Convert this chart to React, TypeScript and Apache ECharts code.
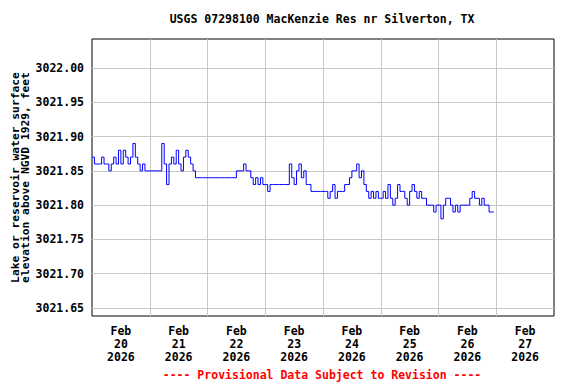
import React, { useEffect, useRef } from 'react';
import * as echarts from 'echarts';

const TITLE = 'USGS 07298100 MacKenzie Res nr Silverton, TX';
const Y_NAME = 'Lake or reservoir water surface\nelevation above NGVD 1929, feet';
const FOOTER = '---- Provisional Data Subject to Revision ----';

const START = Date.UTC(2026, 1, 20);
const END = Date.UTC(2026, 1, 28);
const HOUR = 3600000;
const DAY = 86400000;

const dayLabels = [20, 21, 22, 23, 24, 25, 26, 27];
const yTicks = [3021.65, 3021.7, 3021.75, 3021.8, 3021.85, 3021.9, 3021.95, 3022.0];

// hourly gage heights, starting Feb 20 00:00
const feb20 = [3021.87, 3021.86, 3021.86, 3021.86, 3021.87, 3021.86, 3021.86, 3021.85, 3021.86, 3021.87, 3021.86, 3021.88,
  3021.86, 3021.88, 3021.87, 3021.86, 3021.87, 3021.89, 3021.87, 3021.86, 3021.85, 3021.86, 3021.85, 3021.85];
const feb21 = [3021.85, 3021.85, 3021.85, 3021.85, 3021.85, 3021.89, 3021.86, 3021.83, 3021.86, 3021.87, 3021.86, 3021.88,
  3021.86, 3021.85, 3021.87, 3021.88, 3021.87, 3021.86, 3021.85, 3021.84, 3021.84, 3021.84, 3021.84, 3021.84];
const feb22 = [3021.84, 3021.84, 3021.84, 3021.84, 3021.84, 3021.84, 3021.84, 3021.84, 3021.84, 3021.84, 3021.84, 3021.84,
  3021.85, 3021.85, 3021.85, 3021.86, 3021.85, 3021.85, 3021.84, 3021.83, 3021.84, 3021.83, 3021.84, 3021.83];
const feb23 = [3021.83, 3021.82, 3021.83, 3021.83, 3021.83, 3021.83, 3021.83, 3021.83, 3021.83, 3021.83, 3021.86, 3021.84,
  3021.83, 3021.85, 3021.86, 3021.84, 3021.85, 3021.83, 3021.83, 3021.82, 3021.82, 3021.82, 3021.82, 3021.82];
const feb24 = [3021.82, 3021.82, 3021.81, 3021.82, 3021.83, 3021.81, 3021.82, 3021.82, 3021.82, 3021.83, 3021.83, 3021.84,
  3021.85, 3021.85, 3021.86, 3021.84, 3021.85, 3021.83, 3021.82, 3021.81, 3021.82, 3021.81, 3021.82, 3021.81];
const feb25 = [3021.81, 3021.82, 3021.81, 3021.83, 3021.81, 3021.8, 3021.81, 3021.83, 3021.82, 3021.82, 3021.81, 3021.8,
  3021.82, 3021.83, 3021.82, 3021.81, 3021.82, 3021.81, 3021.81, 3021.8, 3021.8, 3021.8, 3021.79, 3021.8];
const feb26 = [3021.8, 3021.78, 3021.8, 3021.81, 3021.81, 3021.8, 3021.79, 3021.8, 3021.79, 3021.8, 3021.8, 3021.8,
  3021.8, 3021.81, 3021.82, 3021.81, 3021.81, 3021.8, 3021.81, 3021.8, 3021.8, 3021.79, 3021.79, 3021.79];

const FONT = '"DejaVu Sans Mono", monospace';

export default function App() {
  const ref = useRef<HTMLDivElement>(null);

  useEffect(() => {
    if (!ref.current) return;
    const chart = echarts.init(ref.current, null, { renderer: 'svg' });
    const hourly = [...feb20, ...feb21, ...feb22, ...feb23, ...feb24, ...feb25, ...feb26];
    const data = hourly.map((v, i) => [START + i * HOUR, v]);
    const labelValues = dayLabels.map((d) => Date.UTC(2026, 1, d, 12));

    chart.setOption({
      animation: false,
      backgroundColor: '#fff',
      grid: {
        left: 92, top: 39, right: 22, bottom: 68,
        outerBoundsMode: 'none',
        containLabel: false,
        show: true, borderColor: '#000', borderWidth: 1, backgroundColor: 'transparent',
      },
      graphic: [
        {
          type: 'text', x: 322, y: 19, z: 10,
          style: {
            text: TITLE, align: 'center', verticalAlign: 'middle',
            fontFamily: FONT, fontSize: 11.5, fontWeight: 'bold', fill: '#000',
          },
        },
        {
          type: 'text', x: 322, y: 375, z: 10,
          style: {
            text: FOOTER, align: 'center', verticalAlign: 'middle',
            fontFamily: FONT, fontSize: 11.5, fontWeight: 'bold', fill: '#ff0000',
          },
        },
      ],
      xAxis: {
        type: 'value',
        min: START,
        max: END,
        interval: DAY,
        axisLine: { show: false },
        axisTick: { show: false },
        splitLine: { show: true, showMinLine: false, showMaxLine: false, lineStyle: { color: '#c8c8c8', width: 1 } },
        axisLabel: {
          customValues: labelValues,
          margin: 8,
          fontFamily: FONT, fontSize: 11.5, fontWeight: 'bold', color: '#000', lineHeight: 13,
          formatter: (v: number) => {
            const d = new Date(v);
            return 'Feb\n' + d.getUTCDate() + '\n' + d.getUTCFullYear();
          },
        },
      },
      yAxis: {
        type: 'value',
        min: 3021.6383,
        max: 3022.0423,
        name: Y_NAME,
        nameLocation: 'middle',
        nameRotate: 90,
        nameGap: 62,
        nameMoveOverlap: false,
        nameTextStyle: { fontFamily: FONT, fontSize: 11.3, fontWeight: 'bold', color: '#000', lineHeight: 10 },
        axisLine: { show: false },
        axisTick: { show: false, customValues: yTicks },
        splitLine: { show: true, lineStyle: { color: '#c8c8c8', width: 1 } },
        axisLabel: {
          customValues: yTicks,
          margin: 8,
          fontFamily: FONT, fontSize: 11.5, fontWeight: 'bold', color: '#000',
          formatter: (v: number) => v.toFixed(2),
        },
      },
      series: [
        {
          type: 'line',
          step: 'end',
          showSymbol: false,
          data,
          lineStyle: { color: '#0000ff', width: 1 },
          itemStyle: { color: '#0000ff' },
        },
      ],
    });
    return () => chart.dispose();
  }, []);

  return <div ref={ref} style={{ width: 576, height: 384, position: 'absolute', left: 0, top: 0 }} />;
}
